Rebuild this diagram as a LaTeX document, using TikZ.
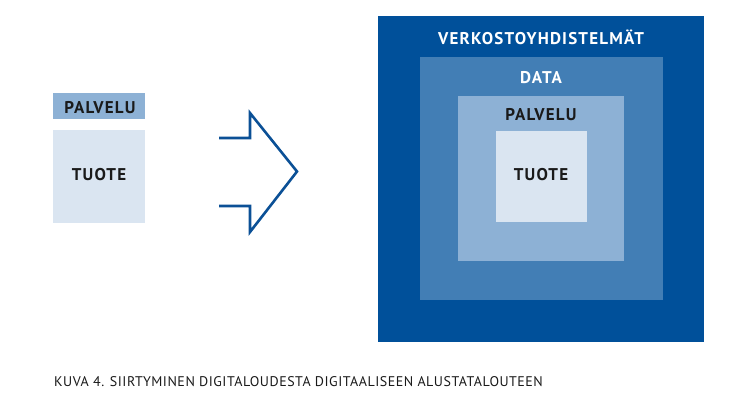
\documentclass[tikz,border=0pt]{standalone}
\usepackage{fontspec}
\setmainfont{PT Sans}
\newfontfamily\lblfont[LetterSpace=7]{PT Sans Bold}
\newfontfamily\capfont[LetterSpace=3.6]{PT Sans}
\definecolor{cOuter}{HTML}{00509A}
\definecolor{cData}{HTML}{427EB5}
\definecolor{cPalv}{HTML}{8DB1D5}
\definecolor{cTuote}{HTML}{DAE5F1}
\definecolor{cArrow}{HTML}{0B5096}
\definecolor{cText}{HTML}{1A1A1A}
\tikzset{
  box/.style={draw=none, inner sep=0pt, outer sep=0pt, anchor=north west},
  lbl/.style={font=\lblfont\fontsize{17}{17}\selectfont, inner sep=0pt, anchor=base},
}
\begin{document}
\begin{tikzpicture}[x=1pt,y=-1pt]
\useasboundingbox (0,0) rectangle (735,408);
% left
\node[box, fill=cPalv, minimum width=92pt, minimum height=26pt] (lpal) at (53,93) {};
\node[box, fill=cTuote, minimum width=92pt, minimum height=93pt] (ltuo) at (53,130) {};
\node[lbl, text=cText] (lpalt) at (100,113) {PALVELU};
\node[lbl, text=cText] (ltuot) at (99,180.5) {TUOTE};
% arrow
\draw[cArrow, line width=2.6pt, line join=miter] (219,138) -- (250,138) -- (250,113) -- (297,171.5) -- (250,232) -- (250,206) -- (219,206);
% right
\node[box, fill=cOuter, minimum width=326pt, minimum height=326pt] (outer) at (378,16) {};
\node[box, fill=cData, minimum width=243pt, minimum height=243pt] (data) at (420,57) {};
\node[box, fill=cPalv, minimum width=166pt, minimum height=165pt] (palv) at (458,96) {};
\node[box, fill=cTuote, minimum width=91pt, minimum height=91pt] (tuote) at (496,131) {};
\node[lbl, text=white] (outert) at (541,44) {VERKOSTOYHDISTELMÄT};
\node[lbl, text=white] (datat) at (541,83) {DATA};
\node[lbl, text=cText] (palvt) at (541,120.5) {PALVELU};
\node[lbl, text=cText] (tuotet) at (541,180.5) {TUOTE};
% caption
\node[font=\capfont\fontsize{14}{14}\selectfont, text=cText, anchor=west, inner sep=0pt] (cap) at (54,381.5) {KUVA 4. SIIRTYMINEN DIGITALOUDESTA DIGITAALISEEN ALUSTATALOUTEEN};
\end{tikzpicture}
\end{document}
